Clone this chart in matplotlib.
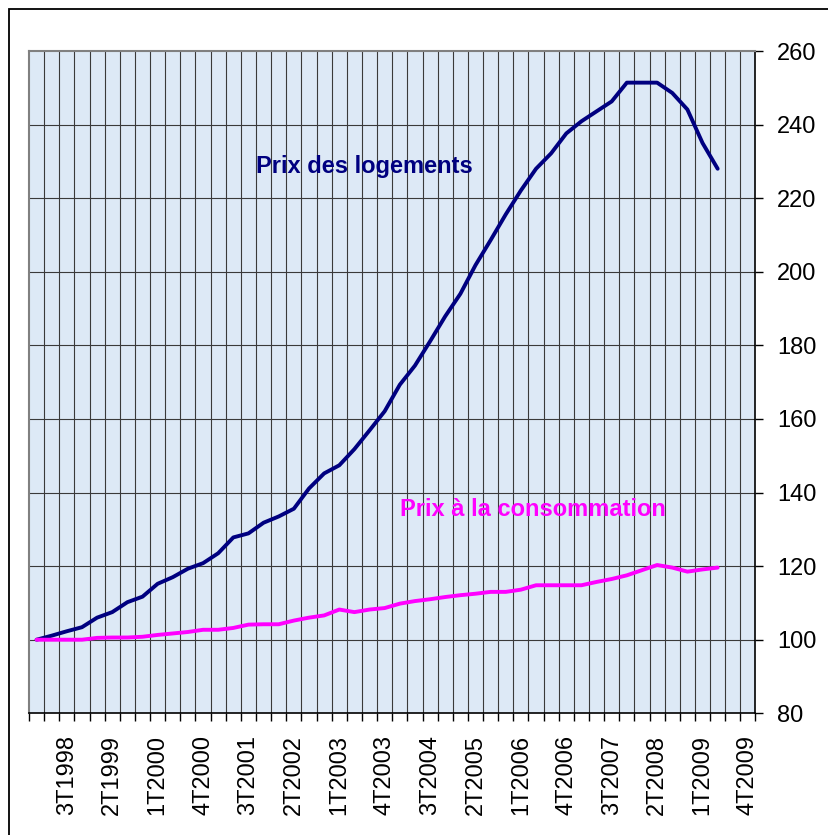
import matplotlib.pyplot as plt
from matplotlib.patches import Rectangle

# quarterly categories 1T1998 .. 4T2009
quarters = [f"{q}T{y}" for y in range(1998, 2010) for q in range(1, 5)]

housing = [100, 101.1, 102.3, 103.4, 106, 107.5, 110.2, 111.7, 115.2, 117,
           119.3, 120.8, 123.5, 127.8, 128.9, 131.8, 133.5, 135.6, 141.1, 145.2,
           147.4, 151.8, 156.9, 162.1, 169.3, 174.5, 181.1, 187.9, 194, 201.8,
           208.6, 215.6, 222.1, 228, 232.2, 237.6, 240.9, 243.6, 246.3, 251.4,
           251.4, 251.4, 248.6, 244.1, 235, 228]

consumer = [100, 100, 100, 100, 100.5, 100.6, 100.6, 100.8, 101.3, 101.7,
            102.1, 102.7, 102.7, 103.2, 104.1, 104.2, 104.2, 105.2, 106, 106.6,
            108.2, 107.5, 108.2, 108.6, 109.8, 110.5, 111, 111.6, 112.1, 112.5,
            113, 113, 113.6, 114.8, 114.8, 114.8, 114.8, 115.7, 116.5, 117.5,
            118.9, 120.3, 119.6, 118.5, 119.1, 119.6]

y_ticks = [80, 100, 120, 140, 160, 180, 200, 220, 240, 260]

plt.rcParams['font.family'] = ['Liberation Sans', 'DejaVu Sans']

fig = plt.figure(figsize=(8.29, 8.35), dpi=100)
ax = fig.add_axes([29 / 829, 1 - 713.3 / 835, (755.5 - 29) / 829, (713.3 - 51) / 835])

# outer chart frame (left and top visible)
fig.patches.append(Rectangle((9 / 829, -0.05), 1.1, (1 - 9 / 835) + 0.05,
                             transform=fig.transFigure, fill=False,
                             edgecolor='black', linewidth=1.3))

ax.set_facecolor('#dde9f6')
n = len(quarters)
ax.set_xlim(-0.5, n - 0.5)
ax.set_ylim(80, 260)

# grid: vertical at every category boundary, horizontal every 20
for k in range(1, n):
    ax.axvline(k - 0.5, color='#3a3a3a', linewidth=0.8, zorder=1)
for v in y_ticks[1:-1]:
    ax.axhline(v, color='#3a3a3a', linewidth=0.8, zorder=1)

x = list(range(len(housing)))
ax.plot(x, housing, color='#000080', linewidth=2.8, zorder=3, solid_capstyle='round')
ax.plot(list(range(len(consumer))), consumer, color='#ff00ff', linewidth=2.8,
        zorder=3, solid_capstyle='round')

ax.text(14.5, 228.6, 'Prix des logements', color='#000080', fontsize=17,
        fontweight='bold', ha='left', va='center')
ax.text(24.0, 135.4, 'Prix à la consommation', color='#ff00ff', fontsize=17,
        fontweight='bold', ha='left', va='center')

# y axis on the right
ax.yaxis.tick_right()
ax.set_yticks(y_ticks)
ax.set_yticklabels([str(v) for v in y_ticks])
ax.tick_params(axis='y', direction='out', length=6, width=1, labelsize=17, pad=9.5)

# x ticks at boundaries, labels every third quarter
ax.set_xticks([k - 0.5 for k in range(n + 1)])
ax.set_xticklabels([])
ax.set_xticks(list(range(2, n, 3)), minor=True)
ax.set_xticklabels([quarters[i] for i in range(2, n, 3)], minor=True,
                   rotation=90, fontsize=17)
ax.tick_params(axis='x', which='major', direction='out', length=6, width=1)
ax.tick_params(axis='x', which='minor', length=0, pad=15.5)

for side in ['top', 'left']:
    ax.spines[side].set_color('#808080')
    ax.spines[side].set_linewidth(1.5)
for side in ['bottom', 'right']:
    ax.spines[side].set_color('black')
    ax.spines[side].set_linewidth(1.2)

fig.savefig('out.png', dpi=100)
